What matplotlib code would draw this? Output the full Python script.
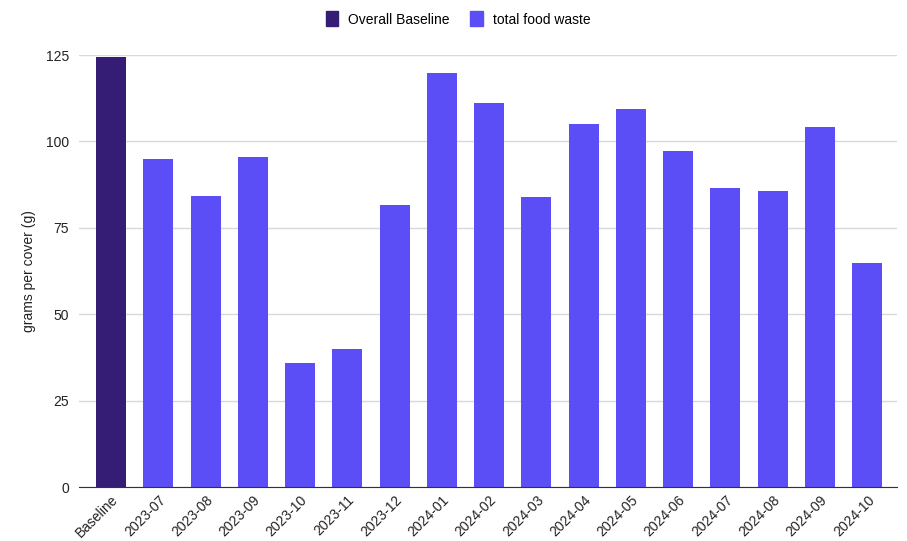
import numpy as np
import matplotlib.pyplot as plt
from matplotlib.patches import Patch

plt.rcParams['font.family'] = ['Liberation Sans', 'DejaVu Sans']

# categories and values (grams per cover)
labels = ['Baseline', '2023-07', '2023-08', '2023-09', '2023-10', '2023-11',
          '2023-12', '2024-01', '2024-02', '2024-03', '2024-04', '2024-05',
          '2024-06', '2024-07', '2024-08', '2024-09', '2024-10']
values = [124.4, 94.9, 84.2, 95.5, 35.9, 39.9, 81.6, 119.8, 111.1, 83.9,
          105.0, 109.4, 97.2, 86.5, 85.6, 104.2, 64.8]
yticks = [0, 25, 50, 75, 100, 125]

base_color = '#351c75'
waste_color = '#5b4ef6'
colors = [base_color] + [waste_color] * (len(values) - 1)

fig = plt.figure(figsize=(9.07, 5.41), dpi=100)
ax = fig.add_axes([0.087, 0.0998, 0.902, 0.7985])

x = np.arange(len(labels))
ax.bar(x, values, width=0.635, color=colors, zorder=3)

ax.set_xlim(-0.68, 16.63)
ax.set_ylim(0, 125)
ax.set_yticks(yticks)
ax.set_xticks(x)
ax.set_xticklabels(labels, rotation=45, ha='right', rotation_mode='anchor')
ax.tick_params(axis='both', length=0, labelsize=10, colors='#222222')
ax.tick_params(axis='y', pad=7)
ax.tick_params(axis='x', pad=4)
ax.grid(axis='y', color='#d9d9d9', linewidth=1, zorder=0)
for s in ['top', 'right', 'left']:
    ax.spines[s].set_visible(False)
ax.spines['bottom'].set_color('#333333')
ax.spines['bottom'].set_zorder(4)

ax.set_ylabel('grams per cover (g)', fontsize=10, color='#222222')
ax.yaxis.set_label_coords(-0.053, 0.5)

handles = [Patch(color=base_color, label='Overall Baseline'),
           Patch(color=waste_color, label='total food waste')]
fig.legend(handles=handles, loc='center', bbox_to_anchor=(0.505, 0.965),
           ncol=2, frameon=False, fontsize=10, handlelength=0.9,
           handleheight=1.3, columnspacing=1.5, handletextpad=0.7)

fig.savefig('out.png', dpi=100)
